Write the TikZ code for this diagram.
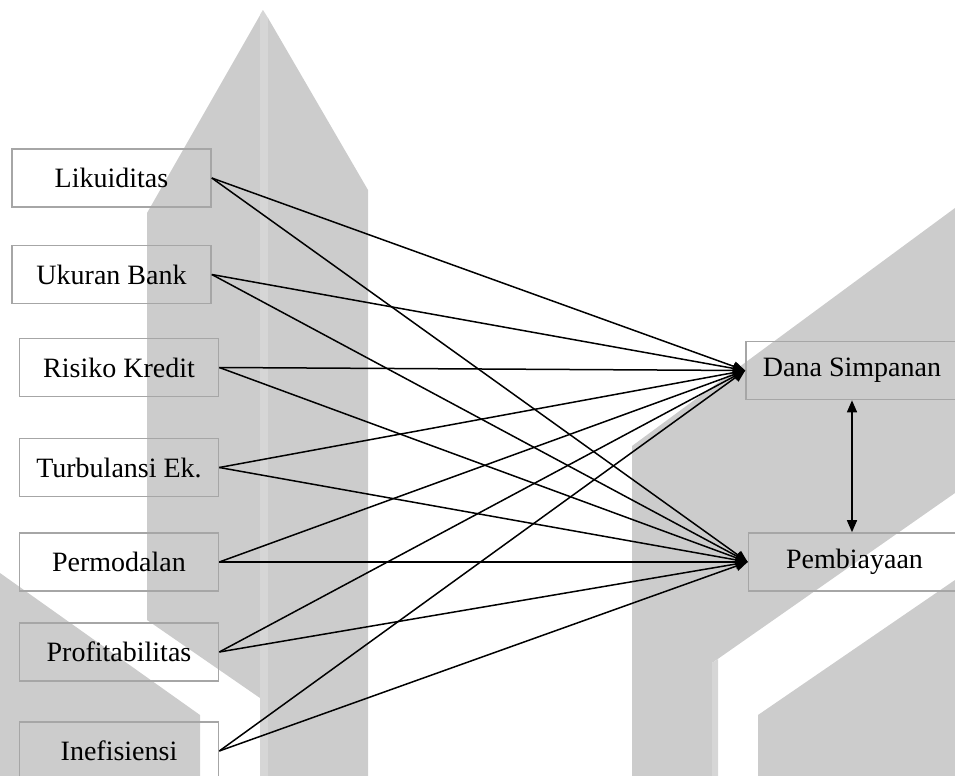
\documentclass[tikz,border=0pt]{standalone}
\usepackage{fontspec}
\setmainfont{Liberation Serif}
\usetikzlibrary{arrows.meta}
\begin{document}
\begin{tikzpicture}[
  x=0.5pt, y=-0.5pt,
  wm/.style={fill=gray!40},
  wmlight/.style={fill=gray!32},
  box/.style={
    draw=gray!70,
    line width=0.8pt,
    align=center,
    minimum width=99.5pt,
    minimum height=29pt,
    inner sep=0pt,
    font=\fontsize{14}{16}\selectfont
  },
  wbox/.style={box, minimum width=106pt},
  arrow/.style={-{Triangle[length=6pt,width=5pt]}, line width=0.75pt},
  dblarrow/.style={{Triangle[length=6pt,width=5pt]}-{Triangle[length=6pt,width=5pt]}, line width=0.75pt}
]
\useasboundingbox (0,0) rectangle (955,776);

% watermark
\fill[wm] (263,10) -- (147,213) -- (147,620) -- (260,698) -- (260,15) -- cycle;
\fill[wmlight] (260,15) -- (263,10) -- (268,18) -- (268,776) -- (260,776) -- cycle;
\fill[wm] (268,18) -- (368,190) -- (368,776) -- (268,776) -- cycle;
\fill[wm] (0,573) -- (200,715) -- (200,776) -- (0,776) -- cycle;
\fill[wm] (632,446) -- (955,208) -- (955,493) -- (712,663) -- (712,776) -- (632,776) -- cycle;
\fill[wmlight] (712,663) -- (718,659) -- (718,776) -- (712,776) -- cycle;
\fill[wm] (758,715) -- (955,580) -- (955,776) -- (758,776) -- cycle;

\node[box] (likuid) at (111.5,178) {Likuiditas};
\node[box] (ukuran) at (111.5,274.5) {Ukuran Bank};
\node[box] (risiko) at (119,367.5) {Risiko Kredit};
\node[box] (turbul) at (119,467.5) {Turbulansi Ek.};
\node[box] (modal) at (119,562) {Permodalan};
\node[box] (profit) at (119,652) {Profitabilitas};
\node[box] (inefis) at (119,751) {Inefisiensi};

\node[wbox] (dana) at (852,370.5) {Dana Simpanan};
\node[wbox] (biaya) at (854.5,562) {Pembiayaan};

\draw[arrow] (likuid.east) -- (dana.west);
\draw[arrow] (likuid.east) -- (biaya.west);
\draw[arrow] (ukuran.east) -- (dana.west);
\draw[arrow] (ukuran.east) -- (biaya.west);
\draw[arrow] (risiko.east) -- (dana.west);
\draw[arrow] (risiko.east) -- (biaya.west);
\draw[arrow] (turbul.east) -- (dana.west);
\draw[arrow] (turbul.east) -- (biaya.west);
\draw[arrow] (modal.east) -- (dana.west);
\draw[arrow] (modal.east) -- (biaya.west);
\draw[arrow] (profit.east) -- (dana.west);
\draw[arrow] (profit.east) -- (biaya.west);
\draw[arrow] (inefis.east) -- (dana.west);
\draw[arrow] (inefis.east) -- (biaya.west);

\draw[dblarrow] (dana.south) -- (dana.south |- biaya.north);
\end{tikzpicture}
\end{document}
